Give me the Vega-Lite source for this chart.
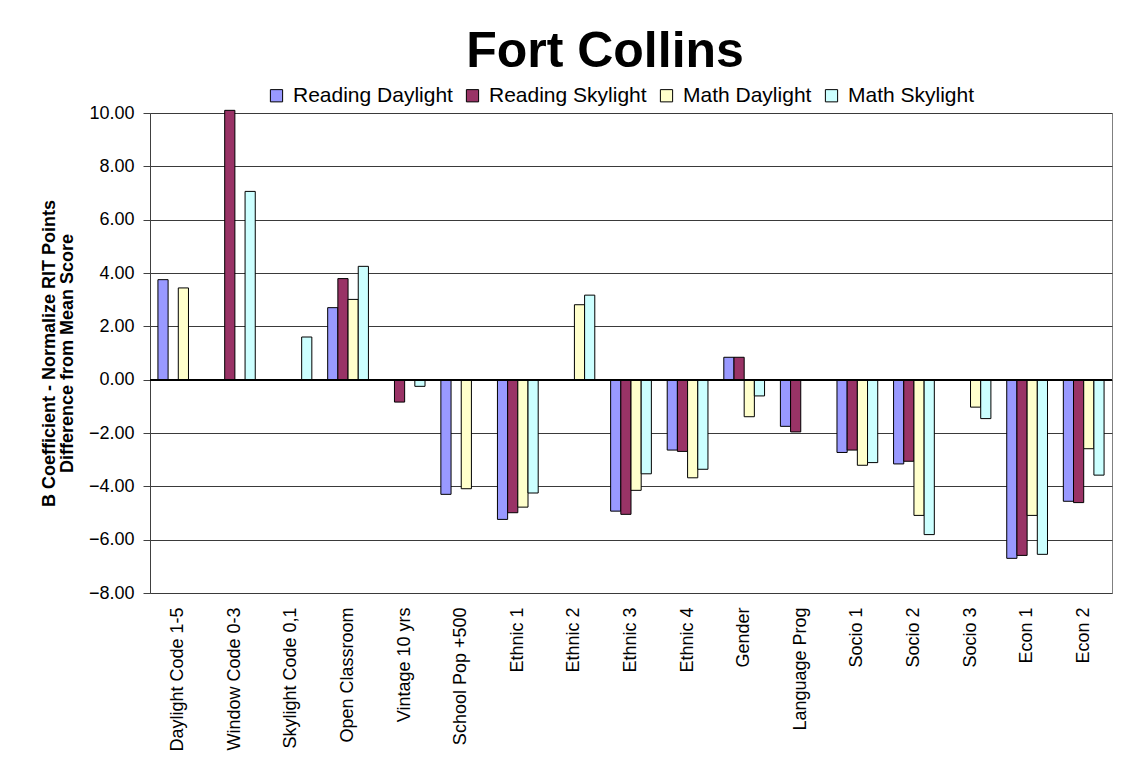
{
  "$schema": "https://vega.github.io/schema/vega-lite/v6.json",
  "autosize": "none",
  "width": 962,
  "height": 480,
  "padding": {"left": 150, "top": 113, "right": 26, "bottom": 168},
  "background": "white",
  "title": {"text": "Fort Collins", "fontSize": 50, "font": "Liberation Sans", "fontWeight": "bold", "color": "black", "anchor": "middle", "dx": -26, "offset": -32, "baseline": "alphabetic"},
  "config": {
    "font": "Liberation Sans",
    "view": {"stroke": "#808080", "strokeWidth": 1}
  },
  "data": {"values": [
    {"category": "Daylight Code 1-5", "series": "Reading Daylight", "value": 3.75},
    {"category": "Daylight Code 1-5", "series": "Math Daylight", "value": 3.44},
    {"category": "Window Code 0-3", "series": "Reading Skylight", "value": 10.1},
    {"category": "Window Code 0-3", "series": "Math Skylight", "value": 7.06},
    {"category": "Skylight Code 0,1", "series": "Math Skylight", "value": 1.6},
    {"category": "Open Classroom", "series": "Reading Daylight", "value": 2.7},
    {"category": "Open Classroom", "series": "Reading Skylight", "value": 3.79},
    {"category": "Open Classroom", "series": "Math Daylight", "value": 3.01},
    {"category": "Open Classroom", "series": "Math Skylight", "value": 4.25},
    {"category": "Vintage 10 yrs", "series": "Reading Skylight", "value": -0.84},
    {"category": "Vintage 10 yrs", "series": "Math Skylight", "value": -0.25},
    {"category": "School Pop +500", "series": "Reading Daylight", "value": -4.3},
    {"category": "School Pop +500", "series": "Math Daylight", "value": -4.09},
    {"category": "Ethnic 1", "series": "Reading Daylight", "value": -5.24},
    {"category": "Ethnic 1", "series": "Reading Skylight", "value": -4.99},
    {"category": "Ethnic 1", "series": "Math Daylight", "value": -4.78},
    {"category": "Ethnic 1", "series": "Math Skylight", "value": -4.25},
    {"category": "Ethnic 2", "series": "Math Daylight", "value": 2.81},
    {"category": "Ethnic 2", "series": "Math Skylight", "value": 3.17},
    {"category": "Ethnic 3", "series": "Reading Daylight", "value": -4.93},
    {"category": "Ethnic 3", "series": "Reading Skylight", "value": -5.05},
    {"category": "Ethnic 3", "series": "Math Daylight", "value": -4.15},
    {"category": "Ethnic 3", "series": "Math Skylight", "value": -3.53},
    {"category": "Ethnic 4", "series": "Reading Daylight", "value": -2.64},
    {"category": "Ethnic 4", "series": "Reading Skylight", "value": -2.69},
    {"category": "Ethnic 4", "series": "Math Daylight", "value": -3.68},
    {"category": "Ethnic 4", "series": "Math Skylight", "value": -3.36},
    {"category": "Gender", "series": "Reading Daylight", "value": 0.84},
    {"category": "Gender", "series": "Reading Skylight", "value": 0.84},
    {"category": "Gender", "series": "Math Daylight", "value": -1.39},
    {"category": "Gender", "series": "Math Skylight", "value": -0.61},
    {"category": "Language Prog", "series": "Reading Daylight", "value": -1.75},
    {"category": "Language Prog", "series": "Reading Skylight", "value": -1.96},
    {"category": "Socio 1", "series": "Reading Daylight", "value": -2.73},
    {"category": "Socio 1", "series": "Reading Skylight", "value": -2.64},
    {"category": "Socio 1", "series": "Math Daylight", "value": -3.21},
    {"category": "Socio 1", "series": "Math Skylight", "value": -3.11},
    {"category": "Socio 2", "series": "Reading Daylight", "value": -3.16},
    {"category": "Socio 2", "series": "Reading Skylight", "value": -3.06},
    {"category": "Socio 2", "series": "Math Daylight", "value": -5.09},
    {"category": "Socio 2", "series": "Math Skylight", "value": -5.81},
    {"category": "Socio 3", "series": "Math Daylight", "value": -1.03},
    {"category": "Socio 3", "series": "Math Skylight", "value": -1.46},
    {"category": "Econ 1", "series": "Reading Daylight", "value": -6.7},
    {"category": "Econ 1", "series": "Reading Skylight", "value": -6.59},
    {"category": "Econ 1", "series": "Math Daylight", "value": -5.09},
    {"category": "Econ 1", "series": "Math Skylight", "value": -6.55},
    {"category": "Econ 2", "series": "Reading Daylight", "value": -4.56},
    {"category": "Econ 2", "series": "Reading Skylight", "value": -4.61},
    {"category": "Econ 2", "series": "Math Daylight", "value": -2.59},
    {"category": "Econ 2", "series": "Math Skylight", "value": -3.58}
  ]},
  "layer": [
    {
      "mark": {"type": "bar", "stroke": "black", "strokeWidth": 1, "clip": false},
      "encoding": {
        "x": {
          "field": "category", "type": "nominal", "sort": null,
          "scale": {"domain": ["Daylight Code 1-5", "Window Code 0-3", "Skylight Code 0,1", "Open Classroom", "Vintage 10 yrs", "School Pop +500", "Ethnic 1", "Ethnic 2", "Ethnic 3", "Ethnic 4", "Gender", "Language Prog", "Socio 1", "Socio 2", "Socio 3", "Econ 1", "Econ 2"], "paddingInner": 0.28, "paddingOuter": 0.14},
          "axis": {"title": null, "labelAngle": -90, "labelFontSize": 18, "labelColor": "black", "labelPadding": 14, "ticks": false, "domain": false, "labelLimit": 300}
        },
        "xOffset": {"field": "series", "type": "nominal", "scale": {"domain": ["Reading Daylight", "Reading Skylight", "Math Daylight", "Math Skylight"]}},
        "y": {
          "field": "value", "type": "quantitative",
          "scale": {"domain": [-8, 10], "nice": false, "zero": false},
          "axis": {
            "title": ["B Coefficient - Normalize RIT Points", "Difference from Mean Score"],
            "titleFontSize": 18, "titleFontWeight": "bold", "titleColor": "black", "titleLineHeight": 18, "titlePadding": 12,
            "values": [-8, -6, -4, -2, 0, 2, 4, 6, 8, 10], "format": ".2f",
            "labelFontSize": 18, "labelColor": "black", "labelPadding": 9,
            "tickSize": 7, "tickColor": "#404040", "domainColor": "#404040",
            "grid": true, "gridColor": "#3a3a3a", "gridWidth": 1
          }
        },
        "color": {
          "field": "series", "type": "nominal",
          "scale": {"domain": ["Reading Daylight", "Reading Skylight", "Math Daylight", "Math Skylight"], "range": ["#9999FF", "#993366", "#FFFFCC", "#CCFFFF"]},
          "legend": {"title": null, "orient": "none", "legendX": 116, "legendY": -28, "direction": "horizontal", "symbolType": "square", "symbolSize": 150, "symbolStrokeColor": "black", "symbolStrokeWidth": 1, "labelFontSize": 21, "labelColor": "black", "labelOffset": 6, "columnPadding": 9, "labelLimit": 300}
        }
      }
    },
    {
      "mark": {"type": "rule", "color": "black", "strokeWidth": 1.2},
      "encoding": {"y": {"datum": 0}}
    }
  ]
}
